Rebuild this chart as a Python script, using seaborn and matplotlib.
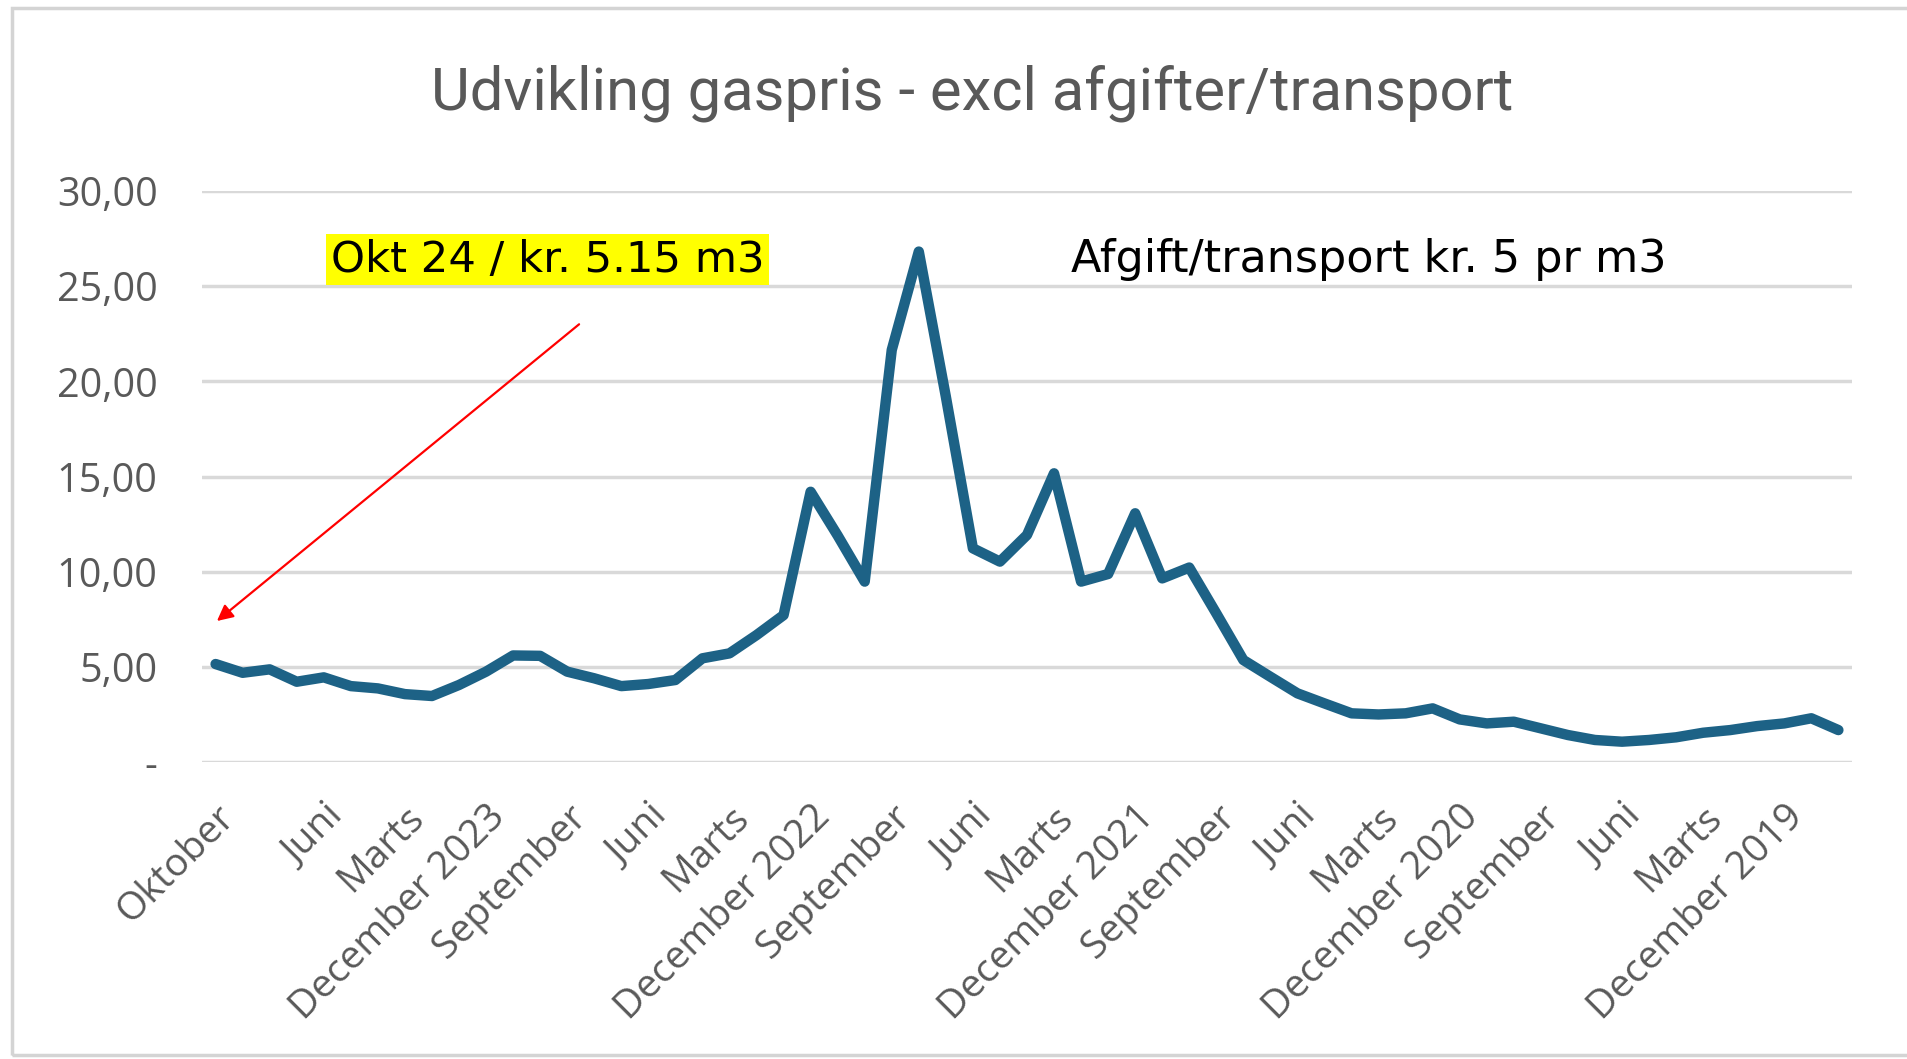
import pandas as pd
import matplotlib
matplotlib.use("Agg")
import matplotlib.pyplot as plt
import seaborn as sns
from matplotlib.patches import Rectangle

# Data: gaspris excl. afgifter/transport (kr pr m3), nyeste først
maaneder = pd.date_range(end="2024-10-01", periods=61, freq="MS")[::-1]
gaspris = [5.15, 4.69, 4.87, 4.22, 4.45, 3.99, 3.87, 3.57, 3.47, 4.05, 4.75,
           5.60, 5.58, 4.75, 4.40, 3.99, 4.10, 4.31, 5.45, 5.71, 6.67, 7.72,
           14.20, 11.90, 9.48, 21.65, 26.82, 19.20, 11.23, 10.53, 11.93, 15.17, 9.48,
           9.88, 13.07, 9.65, 10.22, 7.81, 5.36, 4.48, 3.61, 3.08, 2.56, 2.50,
           2.56, 2.82, 2.24, 2.03, 2.12, 1.77, 1.42, 1.16, 1.07, 1.16, 1.30,
           1.54, 1.68, 1.89, 2.03, 2.30, 1.68]
navne = ["Januar", "Februar", "Marts", "April", "Maj", "Juni", "Juli",
         "August", "September", "Oktober", "November", "December"]
y_ticks = [0, 5, 10, 15, 20, 25, 30]
y_labels = ["-", "5,00", "10,00", "15,00", "20,00", "25,00", "30,00"]

TITEL = "Udvikling gaspris - excl afgifter/transport"
NOTE_1 = "Okt 24 / kr. 5.15 m3"
NOTE_2 = "Afgift/transport kr. 5 pr m3"

GRAA = "#595959"
LINJE = "#1d6286"

df = pd.DataFrame({"idx": range(len(gaspris)), "pris": gaspris})

sns.set_theme(style="white")
plt.rcParams['font.family'] = ['Open Sans', 'DejaVu Sans']

fig = plt.figure(figsize=(19.08, 10.59), dpi=100)
ax = fig.add_axes([0.1059, 0.2804, 0.8647, 0.5392])

# ramme
fig.patches.append(Rectangle((12 / 1908, 4 / 1059), 1.2, 1 - 12 / 1059,
                             transform=fig.transFigure, fill=False,
                             edgecolor="#d4d4d4", linewidth=2.5))

for y in y_ticks:
    ax.axhline(y, color="#d9d9d9", linewidth=2.5, zorder=0)

sns.lineplot(data=df, x="idx", y="pris", color=LINJE, linewidth=7.5,
             ax=ax, solid_joinstyle="round", solid_capstyle="round")

ax.set_xlim(-0.5, len(gaspris) - 0.5)
ax.set_ylim(0, 30)
ax.set_xlabel("")
ax.set_ylabel("")
for s in ax.spines.values():
    s.set_visible(False)

ax.set_yticks(y_ticks)
ax.set_yticklabels(y_labels, color=GRAA, fontsize=28.5)
ax.tick_params(axis="y", length=0, pad=32)

pos = [i for i in range(len(maaneder)) if i == 0 or (i >= 4 and i % 3 == 1)]
labels = []
for i in pos:
    m = maaneder[i]
    t = navne[m.month - 1]
    if m.month == 12:
        t += f" {m.year}"
    labels.append(t)
ax.set_xticks(pos)
ax.set_xticklabels(labels, rotation=45, ha="right", va="top",
                   rotation_mode="anchor", color=GRAA, fontsize=28)
ax.tick_params(axis="x", length=0, pad=26)

fig.text(0.5096, 0.912, TITEL, ha="center", va="center", color=GRAA,
         fontsize=43, family=["Roboto", "DejaVu Sans"])

ax.text(0.078, 0.88, NOTE_1, transform=ax.transAxes, ha="left", va="center",
        fontsize=31.2, color="black", family=["DejaVu Sans"],
        bbox=dict(facecolor="#ffff00", edgecolor="none", pad=3))
ax.text(0.5267, 0.88, NOTE_2, transform=ax.transAxes, ha="left", va="center",
        fontsize=32, color="black", family=["DejaVu Sans"])

ax.annotate("", xy=(0.05, 7.41), xytext=(13.44, 23.0),
            arrowprops=dict(arrowstyle="-|>", color="red", lw=1.6,
                            mutation_scale=24, shrinkA=0, shrinkB=0))

fig.savefig("out.png", dpi=100)
